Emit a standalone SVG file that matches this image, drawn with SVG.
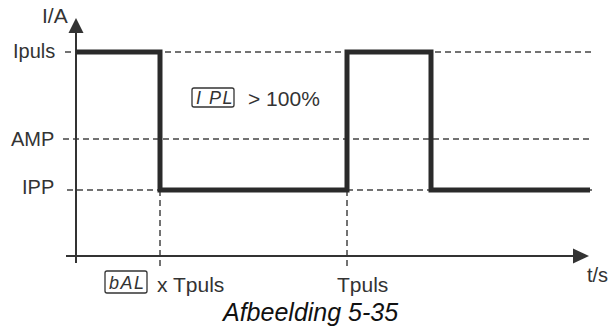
<svg xmlns="http://www.w3.org/2000/svg" width="608" height="331" viewBox="0 0 608 331">
<style>
.t{font-family:"Liberation Sans",Arial,sans-serif;font-size:20px;fill:#333}
.t21{font-size:21px}
.cap{font-size:25px;font-style:italic;fill:#111}
.dash{stroke:#444;stroke-width:1.5;stroke-dasharray:6 4;fill:none}
.ax{stroke:#333;stroke-width:2;fill:none}
.pulse{stroke:#2a2a2a;stroke-width:5;fill:none;stroke-linejoin:miter;stroke-linecap:butt}
.box{fill:none;stroke:#333;stroke-width:1.3}
.seg{font-family:"Liberation Sans",Arial,sans-serif;font-size:18px;font-style:italic;fill:#333;letter-spacing:1.5px}
</style>
<rect width="608" height="331" fill="#fff"/>
<g id="connectors">
<path class="dash" d="M65,52H592"/>
<path class="dash" d="M63,139H592"/>
<path class="dash" d="M67,190H592"/>
<path class="dash" d="M160,190V268"/>
<path class="dash" d="M347,190V268"/>
<path class="ax" d="M76,263V32"/>
<polygon points="76,18 68.5,33 83.5,33" fill="#333"/>
<path class="ax" d="M66,256H574"/>
<polygon points="589,256 573,248.5 573,263.5" fill="#333"/>
<path class="pulse" d="M76,52H160V190H347V52H431V190H590"/>
</g>
<g id="labels">
<text class="t t21" x="42" y="23">I/A</text>
<text class="t" x="13" y="58">Ipuls</text>
<text class="t" x="11" y="146">AMP</text>
<text class="t" x="22" y="194">IPP</text>
<text class="t" x="587" y="282">t/s</text>
<text class="t t21" x="337" y="292">Tpuls</text>
</g>
<g id="ipl">
<rect class="box" x="192" y="88" width="42" height="19" rx="2"/>
<text class="seg" x="196" y="104">I PL</text>
<text class="t t21" x="248" y="106">&gt; 100%</text>
</g>
<g id="bal">
<rect class="box" x="105" y="271" width="42" height="22" rx="2"/>
<text class="seg" x="109" y="289">bAL</text>
<text class="t t21" x="157" y="292">x Tpuls</text>
</g>
<text class="t cap" x="223" y="321">Afbeelding 5-35</text>
</svg>
